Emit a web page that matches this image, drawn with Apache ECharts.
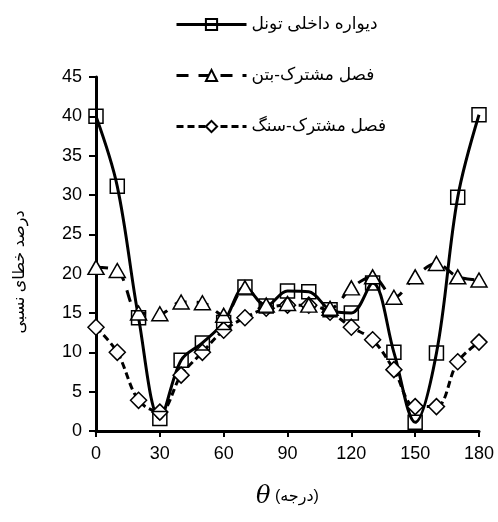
<!DOCTYPE html>
<html>
<head>
<meta charset="utf-8">
<script src="https://cdn.jsdelivr.net/npm/echarts@6/dist/echarts.min.js"></script>
<style>
html, body { margin: 0; padding: 0; background: #fff; }
#chart { width: 498px; height: 522px; }
</style>
</head>
<body>
<div id="chart"></div>
<script>
var FONT = "'Liberation Sans', 'DejaVu Sans', sans-serif";
// زاویه θ (درجه)
var theta = [0, 10, 20, 30, 40, 50, 60, 70, 80, 90, 100, 110, 120, 130, 140, 150, 160, 170, 180];
// دیواره داخلی تونل
var wall = [40, 31.1, 14.4, 1.6, 9.0, 11.2, 13.8, 18.3, 15.9, 17.8, 17.7, 15.4, 15.0, 18.8, 10.0, 1.1, 9.9, 29.7, 40.2];
// فصل مشترک-بتن
var concrete = [20.8, 20.4, 15.0, 14.9, 16.4, 16.3, 14.7, 18.2, 16.0, 16.2, 16.0, 15.6, 18.2, 19.6, 17.0, 19.6, 21.3, 19.6, 19.2];
// فصل مشترک-سنگ
var rock = [13.2, 10.0, 3.9, 2.4, 7.1, 10.0, 12.8, 14.4, 15.6, 16.0, 16.0, 15.1, 13.2, 11.6, 7.8, 3.1, 3.1, 8.8, 11.3];
var names = ['دیواره داخلی تونل', 'فصل مشترک-بتن', 'فصل مشترک-سنگ'];

function pairs(ys) {
    return theta.map(function (t, i) { return [t, ys[i]]; });
}

var chart = echarts.init(document.getElementById('chart'));
var option = {
    animation: false,
    backgroundColor: '#fff',
    textStyle: { fontFamily: FONT, color: '#000' },
    legend: {
        orient: 'vertical',
        left: 170,
        top: 11,
        itemWidth: 70,
        itemHeight: 14,
        itemGap: 34,
        lineStyle: { width: 3 },
        textStyle: { fontSize: 17, fontFamily: FONT, color: '#000' },
        data: names
    },
    grid: { left: 96, right: 19, top: 77, bottom: 91 },
    xAxis: {
        type: 'value',
        min: 0, max: 180, interval: 30,
        name: '{t|θ} (درجه)',
        nameLocation: 'middle',
        nameGap: 54,
        nameTextStyle: {
            fontSize: 16, color: '#000', fontFamily: FONT,
            rich: { t: { fontSize: 24, fontStyle: 'italic', fontFamily: "'DejaVu Serif', serif", color: '#000' } }
        },
        axisLine: { lineStyle: { color: '#000', width: 3 } },
        axisTick: { inside: false, length: 6, lineStyle: { color: '#000', width: 2 } },
        axisLabel: { fontSize: 18, color: '#000', margin: 14 },
        splitLine: { show: false }
    },
    yAxis: {
        type: 'value',
        min: 0, max: 45, interval: 5,
        name: 'درصد خطای نسبی',
        nameLocation: 'middle',
        nameGap: 68,
        nameRotate: 90,
        nameTextStyle: { fontSize: 16, color: '#000', padding: [0, 36, 0, 0] },
        axisLine: { show: true, lineStyle: { color: '#000', width: 3 } },
        axisTick: { show: true, length: 7, lineStyle: { color: '#000', width: 2 } },
        axisLabel: { fontSize: 18, color: '#000', margin: 14 },
        splitLine: { show: false }
    },
    series: [
        {
            name: names[2],
            type: 'line',
            smooth: 0.35,
            data: pairs(rock),
            symbol: 'diamond',
            symbolSize: 16,
            lineStyle: { color: '#000', width: 3, type: [7, 4] },
            itemStyle: { color: '#fff', borderColor: '#000', borderWidth: 1.5 }
        },
        {
            name: names[1],
            type: 'line',
            smooth: 0.35,
            data: pairs(concrete),
            symbol: 'triangle',
            symbolSize: [16, 14],
            lineStyle: { color: '#000', width: 3, type: [12, 10] },
            itemStyle: { color: '#fff', borderColor: '#000', borderWidth: 1.5 }
        },
        {
            name: names[0],
            type: 'line',
            smooth: 0.35,
            data: pairs(wall),
            symbol: 'rect',
            symbolSize: 14,
            lineStyle: { color: '#000', width: 3 },
            itemStyle: { color: 'rgba(255,255,255,0)', borderColor: '#000', borderWidth: 1.5 }
        }
    ]
};
chart.setOption(option);
</script>
</body>
</html>
